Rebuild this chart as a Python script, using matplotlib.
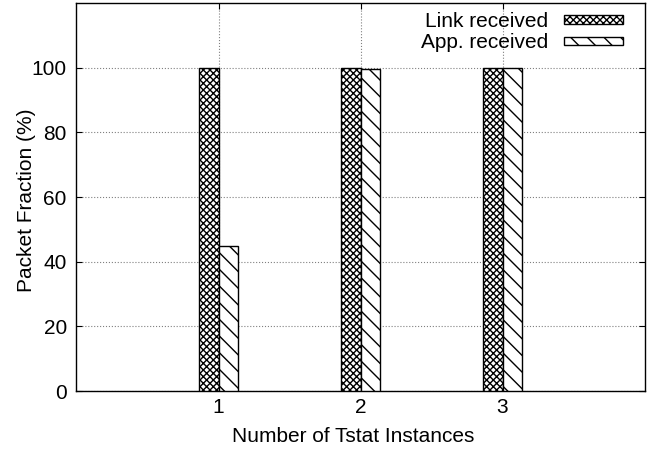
import matplotlib
matplotlib.use('Agg')
import matplotlib.pyplot as plt
import numpy as np

plt.rcParams['font.family'] = ['Liberation Sans', 'DejaVu Sans']
plt.rcParams['font.size'] = 15
plt.rcParams['hatch.linewidth'] = 1.0

# Data
instances = [1, 2, 3]
link_received = [100, 100, 100]
app_received = [45, 99.6, 100]

width = 0.14
x = np.array(instances, dtype=float)

fig = plt.figure(figsize=(6.56, 4.51), dpi=100)
ax = fig.add_axes([0.1166, 0.133, 0.866, 0.8603])

ax.bar(x - width / 2, link_received, width, color='white', edgecolor='black',
       hatch='xxxxx', linewidth=1.0, label='Link received', zorder=3)
ax.bar(x + width / 2, app_received, width, color='white', edgecolor='black',
       hatch='\\\\', linewidth=1.0, label='App. received', zorder=3)

ax.set_xlim(0, 4)
ax.set_ylim(0, 120)
ax.set_xticks(instances)
ax.set_yticks(range(0, 101, 20))
ax.tick_params(direction='in', top=True, right=True, length=4, width=0.8)
ax.tick_params(axis='x', pad=5)
ax.tick_params(axis='y', pad=7)
ax.grid(True, linestyle=':', color='gray', linewidth=0.8, zorder=0)
ax.set_axisbelow(True)

ax.set_xlabel('Number of Tstat Instances')
ax.set_ylabel('Packet Fraction (%)')
ax.xaxis.set_label_coords(0.487, -0.093)
ax.yaxis.set_label_coords(-0.072, 0.492)
for s in ax.spines.values():
    s.set_linewidth(1.0)

ax.legend(loc='upper right', bbox_to_anchor=(0.962, 0.977), frameon=False,
          markerfirst=False, handlelength=2.85, handleheight=0.25,
          handletextpad=0.75, labelspacing=0.12, borderaxespad=0,
          borderpad=0)

fig.savefig('out.png', dpi=100)
